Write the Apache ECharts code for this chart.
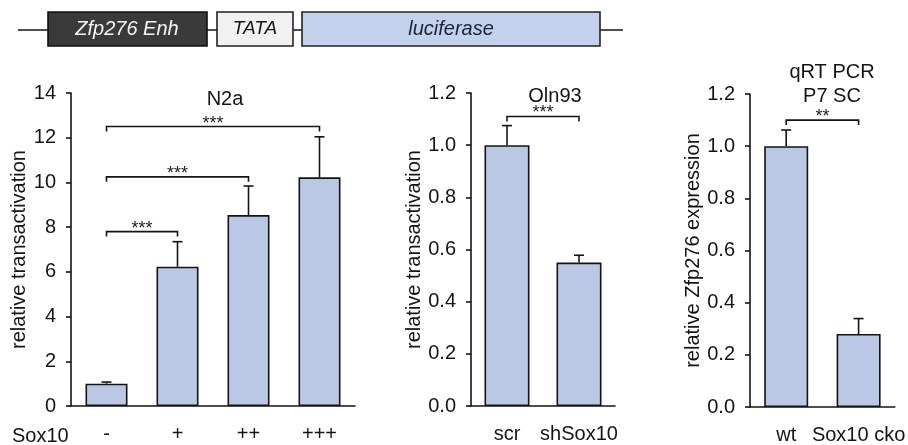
<!DOCTYPE html>
<html>
<head>
<meta charset="utf-8">
<script src="https://cdn.jsdelivr.net/npm/echarts@6/dist/echarts.min.js"></script>
<style>
  html, body { margin: 0; padding: 0; background: #fff; }
  #chart { width: 908px; height: 445px; }
</style>
</head>
<body>
<div id="chart"></div>
<script>
// N2a: Sox10 dose series
const n2aCats = ['-', '+', '++', '+++'];
const n2aMean = [1.0, 6.23, 8.54, 10.23];
const n2aSd = [0.07, 1.12, 1.30, 1.81];
const n2aSigFrom = [0, 0, 0];
const n2aSigTo = [1, 2, 3];
const n2aSigLevel = [7.8, 10.25, 12.5];
const n2aSigText = ['***', '***', '***'];

// Oln93: knockdown
const olnCats = ['scr', 'shSox10'];
const olnMean = [1.0, 0.55];
const olnSd = [0.075, 0.028];
const olnSigFrom = [0];
const olnSigTo = [1];
const olnSigLevel = [1.11];
const olnSigText = ['***'];

// qRT PCR, P7 spinal cord
const pcrCats = ['wt', 'Sox10 cko'];
const pcrMean = [1.0, 0.28];
const pcrSd = [0.062, 0.059];
const pcrSigFrom = [0];
const pcrSigTo = [1];
const pcrSigLevel = [1.10];
const pcrSigText = ['**'];

const n2aTicks = { min: 0, max: 14, interval: 2 };
const fracTicks = { min: 0, max: 1.2, interval: 0.2 };

const FONT = '"Liberation Sans", Arial, sans-serif';
const FS = 20;
const INK = '#141414';
const BAR = '#bac8e5';

const chart = echarts.init(document.getElementById('chart'), null, { renderer: 'canvas' });

function errData(mean, sd) {
  return mean.map((m, i) => [i, m, m + sd[i]]);
}
function sigData(from, to, level) {
  return from.map((f, i) => [f, to[i], level[i]]);
}

function errorSeries(idx, mean, sd) {
  return {
    type: 'custom', xAxisIndex: idx, yAxisIndex: idx, z: 5,
    encode: { x: 0, y: 2 },
    data: errData(mean, sd),
    renderItem: function (params, api) {
      const top = api.coord([api.value(0), api.value(2)]);
      const base = api.coord([api.value(0), api.value(1)]);
      const cap = 5;
      return {
        type: 'group',
        children: [
          { type: 'line', shape: { x1: top[0], y1: base[1], x2: top[0], y2: top[1] },
            style: { stroke: INK, lineWidth: 1.6 } },
          { type: 'line', shape: { x1: top[0] - cap, y1: top[1], x2: top[0] + cap, y2: top[1] },
            style: { stroke: INK, lineWidth: 1.6 } }
        ]
      };
    }
  };
}

function bracketSeries(idx, from, to, level, texts) {
  return {
    type: 'custom', xAxisIndex: idx, yAxisIndex: idx, z: 6,
    encode: { x: 0, y: 2 },
    data: sigData(from, to, level),
    renderItem: function (params, api) {
      const a = api.coord([api.value(0), api.value(2)]);
      const b = api.coord([api.value(1), api.value(2)]);
      const drop = 5;
      return {
        type: 'group',
        children: [
          { type: 'polyline',
            shape: { points: [[a[0], a[1] + drop], [a[0], a[1]], [b[0], b[1]], [b[0], b[1] + drop]] },
            style: { stroke: INK, lineWidth: 1.6, fill: null } },
          { type: 'text',
            style: { text: texts[params.dataIndex], x: (a[0] + b[0]) / 2, y: a[1] + 6,
                     textAlign: 'center', textVerticalAlign: 'bottom',
                     font: '18px ' + FONT, fill: '#222' } }
        ]
      };
    }
  };
}

function barSeries(idx, values, width) {
  return {
    type: 'bar', xAxisIndex: idx, yAxisIndex: idx, barWidth: width, z: 3,
    data: values,
    itemStyle: { color: BAR, borderColor: INK, borderWidth: 1.6 }
  };
}

const axisLine = { show: true, lineStyle: { color: INK, width: 1.6 } };

function xAxis(idx, cats) {
  return {
    type: 'category', gridIndex: idx, data: cats,
    axisLine: axisLine, axisTick: { show: false },
    axisLabel: { color: INK, fontSize: FS, fontFamily: FONT, margin: 18, interval: 0 }
  };
}

function yAxis(idx, ticks, name, gap, fmt) {
  return {
    type: 'value', gridIndex: idx, min: ticks.min, max: ticks.max, interval: ticks.interval,
    name: name, nameLocation: 'middle', nameGap: gap,
    nameTextStyle: { color: INK, fontSize: FS, fontFamily: FONT },
    axisLine: axisLine,
    axisTick: { show: true, inside: false, length: 5, lineStyle: { color: INK, width: 1.6 } },
    splitLine: { show: false },
    axisLabel: { color: INK, fontSize: FS, fontFamily: FONT, margin: 15, formatter: fmt }
  };
}

const titleStyle = { fontSize: FS, fontWeight: 'normal', color: INK, fontFamily: FONT };

const option = {
  backgroundColor: '#ffffff',
  animation: false,
  textStyle: { fontFamily: FONT },
  title: [
    { text: 'N2a', left: 220, top: 84, textAlign: 'center', textStyle: titleStyle },
    { text: 'Oln93', left: 550, top: 81, textAlign: 'center', textStyle: titleStyle },
    { text: 'qRT PCR', left: 827, top: 57, textAlign: 'center', textStyle: titleStyle },
    { text: 'P7 SC', left: 827, top: 81, textAlign: 'center', textStyle: titleStyle }
  ],
  grid: [
    { left: 71, width: 284, top: 93, height: 313 },
    { left: 471, width: 144, top: 93, height: 313 },
    { left: 750, width: 146, top: 94, height: 313 }
  ],
  xAxis: [xAxis(0, n2aCats), xAxis(1, olnCats), xAxis(2, pcrCats)],
  yAxis: [
    yAxis(0, n2aTicks, 'relative transactivation', 35, v => String(v)),
    yAxis(1, fracTicks, 'relative transactivation', 47, v => v.toFixed(1)),
    yAxis(2, fracTicks, 'relative Zfp276 expression', 46, v => v.toFixed(1))
  ],
  series: [
    barSeries(0, n2aMean, 42),
    errorSeries(0, n2aMean, n2aSd),
    bracketSeries(0, n2aSigFrom, n2aSigTo, n2aSigLevel, n2aSigText),
    barSeries(1, olnMean, 45),
    errorSeries(1, olnMean, olnSd),
    bracketSeries(1, olnSigFrom, olnSigTo, olnSigLevel, olnSigText),
    barSeries(2, pcrMean, 44),
    errorSeries(2, pcrMean, pcrSd),
    bracketSeries(2, pcrSigFrom, pcrSigTo, pcrSigLevel, pcrSigText)
  ],
  graphic: [
    // reporter construct: enhancer - TATA - luciferase
    { type: 'line', shape: { x1: 18, y1: 30, x2: 623, y2: 30 }, style: { stroke: INK, lineWidth: 1.6 }, z: 1 },
    { type: 'rect', shape: { x: 48, y: 12, width: 159, height: 34 },
      style: { fill: '#3a3a3a', stroke: '#111', lineWidth: 1.6 }, z: 2 },
    { type: 'text', x: 127, y: 29, z: 3,
      style: { text: 'Zfp276 Enh', fill: '#f4f4f4', font: 'italic 20px ' + FONT,
               textAlign: 'center', textVerticalAlign: 'middle' } },
    { type: 'rect', shape: { x: 217, y: 12, width: 76, height: 34 },
      style: { fill: '#f1f1f1', stroke: '#222', lineWidth: 1.6 }, z: 2 },
    { type: 'text', x: 255, y: 29, z: 3,
      style: { text: 'TATA', fill: INK, font: 'italic 19px ' + FONT,
               textAlign: 'center', textVerticalAlign: 'middle' } },
    { type: 'rect', shape: { x: 302, y: 12, width: 298, height: 34 },
      style: { fill: '#c3d1ec', stroke: '#222', lineWidth: 1.6 }, z: 2 },
    { type: 'text', x: 451, y: 29, z: 3,
      style: { text: 'luciferase', fill: '#1c2238', font: 'italic 20px ' + FONT,
               textAlign: 'center', textVerticalAlign: 'middle' } },
    { type: 'text', x: 12, y: 436, z: 3,
      style: { text: 'Sox10', fill: INK, font: FS + 'px ' + FONT,
               textAlign: 'left', textVerticalAlign: 'middle' } }
  ]
};

chart.setOption(option);
</script>
</body>
</html>
